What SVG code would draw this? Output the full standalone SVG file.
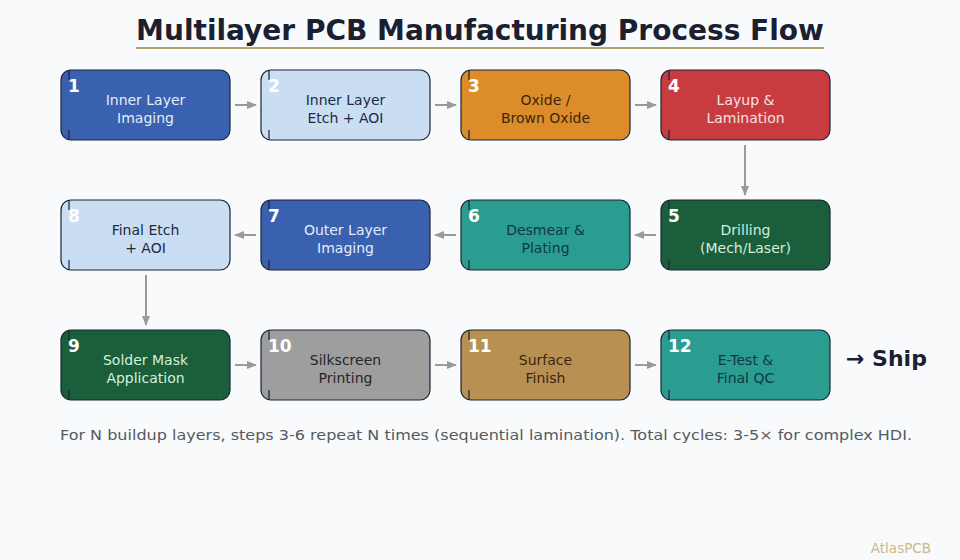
<svg xmlns="http://www.w3.org/2000/svg" width="960" height="560" viewBox="0 0 960 560">
<defs>
<marker id="ah" viewBox="0 0 10 10" refX="9" refY="5" markerWidth="5" markerHeight="5" orient="auto" markerUnits="strokeWidth">
<path d="M0,1 L10,5 L0,9 z" fill="#9a9a9a"/>
</marker>
<style>
.box{stroke:#1a2436;stroke-width:1.2}
.tick{stroke:#1a2436;stroke-width:1.2}
.num{font-family:"DejaVu Sans",sans-serif;font-weight:bold;font-size:17px;fill:#ffffff}
.lbl{font-family:"DejaVu Sans",sans-serif;font-size:14px;text-anchor:middle}
.lt{fill:#e4ecf8}
.dk{fill:#1e2a40}
.conn{stroke:#9a9a9a;stroke-width:2;fill:none;marker-end:url(#ah)}
</style>
</defs>
<rect width="960" height="560" fill="#f8fafc"/>
<text x="480" y="40" text-anchor="middle" font-family="DejaVu Sans, sans-serif" font-weight="bold" font-size="28" fill="#1a2030">Multilayer PCB Manufacturing Process Flow</text>
<line x1="136" y1="48" x2="824" y2="48" stroke="#b8a272" stroke-width="2"/>

<g id="connectors">
<line class="conn" x1="235" y1="105" x2="256" y2="105"/>
<line class="conn" x1="435" y1="105" x2="456" y2="105"/>
<line class="conn" x1="635" y1="105" x2="656" y2="105"/>
<line class="conn" x1="745" y1="145" x2="745" y2="195"/>
<line class="conn" x1="656" y1="235" x2="635" y2="235"/>
<line class="conn" x1="456" y1="235" x2="435" y2="235"/>
<line class="conn" x1="256" y1="235" x2="235" y2="235"/>
<line class="conn" x1="146" y1="275" x2="146" y2="325"/>
<line class="conn" x1="235" y1="365" x2="256" y2="365"/>
<line class="conn" x1="435" y1="365" x2="456" y2="365"/>
<line class="conn" x1="635" y1="365" x2="656" y2="365"/>
</g>

<g id="n1">
<rect class="box" x="61" y="70" width="169" height="70" rx="10" fill="#3a60b0"/>
<path class="tick" d="M69,70 v10 M69,130 v10"/>
<text class="num" x="68" y="92">1</text>
<text class="lbl lt" x="145.5" y="105">Inner Layer</text>
<text class="lbl lt" x="145.5" y="123">Imaging</text>
</g>
<g id="n2">
<rect class="box" x="261" y="70" width="169" height="70" rx="10" fill="#c9ddf3"/>
<path class="tick" d="M269,70 v10 M269,130 v10"/>
<text class="num" x="268" y="92">2</text>
<text class="lbl dk" x="345.5" y="105">Inner Layer</text>
<text class="lbl dk" x="345.5" y="123">Etch + AOI</text>
</g>
<g id="n3">
<rect class="box" x="461" y="70" width="169" height="70" rx="10" fill="#dc8d2a"/>
<path class="tick" d="M469,70 v10 M469,130 v10"/>
<text class="num" x="468" y="92">3</text>
<text class="lbl" fill="#3a2610" x="545.5" y="105">Oxide /</text>
<text class="lbl" fill="#3a2610" x="545.5" y="123">Brown Oxide</text>
</g>
<g id="n4">
<rect class="box" x="661" y="70" width="169" height="70" rx="10" fill="#c83c40"/>
<path class="tick" d="M669,70 v10 M669,130 v10"/>
<text class="num" x="668" y="92">4</text>
<text class="lbl" fill="#f6e0e0" x="745.5" y="105">Layup &amp;</text>
<text class="lbl" fill="#f6e0e0" x="745.5" y="123">Lamination</text>
</g>
<g id="n5">
<rect class="box" x="661" y="200" width="169" height="70" rx="10" fill="#1b5e3b"/>
<path class="tick" d="M669,200 v10 M669,260 v10"/>
<text class="num" x="668" y="222">5</text>
<text class="lbl" fill="#d2f0da" x="745.5" y="235">Drilling</text>
<text class="lbl" fill="#d2f0da" x="745.5" y="253">(Mech/Laser)</text>
</g>
<g id="n6">
<rect class="box" x="461" y="200" width="169" height="70" rx="10" fill="#2a9d90"/>
<path class="tick" d="M469,200 v10 M469,260 v10"/>
<text class="num" x="468" y="222">6</text>
<text class="lbl" fill="#0f3844" x="545.5" y="235">Desmear &amp;</text>
<text class="lbl" fill="#0f3844" x="545.5" y="253">Plating</text>
</g>
<g id="n7">
<rect class="box" x="261" y="200" width="169" height="70" rx="10" fill="#3a60b0"/>
<path class="tick" d="M269,200 v10 M269,260 v10"/>
<text class="num" x="268" y="222">7</text>
<text class="lbl lt" x="345.5" y="235">Outer Layer</text>
<text class="lbl lt" x="345.5" y="253">Imaging</text>
</g>
<g id="n8">
<rect class="box" x="61" y="200" width="169" height="70" rx="10" fill="#c9ddf3"/>
<path class="tick" d="M69,200 v10 M69,260 v10"/>
<text class="num" x="68" y="222">8</text>
<text class="lbl dk" x="145.5" y="235">Final Etch</text>
<text class="lbl dk" x="145.5" y="253">+ AOI</text>
</g>
<g id="n9">
<rect class="box" x="61" y="330" width="169" height="70" rx="10" fill="#1b5e3b"/>
<path class="tick" d="M69,330 v10 M69,390 v10"/>
<text class="num" x="68" y="352">9</text>
<text class="lbl" fill="#d2f0da" x="145.5" y="365">Solder Mask</text>
<text class="lbl" fill="#d2f0da" x="145.5" y="383">Application</text>
</g>
<g id="n10">
<rect class="box" x="261" y="330" width="169" height="70" rx="10" fill="#9e9e9e"/>
<path class="tick" d="M269,330 v10 M269,390 v10"/>
<text class="num" x="268" y="352">10</text>
<text class="lbl" fill="#262626" x="345.5" y="365">Silkscreen</text>
<text class="lbl" fill="#262626" x="345.5" y="383">Printing</text>
</g>
<g id="n11">
<rect class="box" x="461" y="330" width="169" height="70" rx="10" fill="#b89152"/>
<path class="tick" d="M469,330 v10 M469,390 v10"/>
<text class="num" x="468" y="352">11</text>
<text class="lbl" fill="#3a2610" x="545.5" y="365">Surface</text>
<text class="lbl" fill="#3a2610" x="545.5" y="383">Finish</text>
</g>
<g id="n12">
<rect class="box" x="661" y="330" width="169" height="70" rx="10" fill="#2a9d90"/>
<path class="tick" d="M669,330 v10 M669,390 v10"/>
<text class="num" x="668" y="352">12</text>
<text class="lbl" fill="#0f3844" x="745.5" y="365">E-Test &amp;</text>
<text class="lbl" fill="#0f3844" x="745.5" y="383">Final QC</text>
</g>

<text x="846" y="366" font-family="DejaVu Sans, sans-serif" font-weight="bold" font-size="22" fill="#1a2030">→ Ship</text>
<text x="60" y="440" font-family="DejaVu Sans, sans-serif" font-size="14" fill="#555a60" textLength="852" lengthAdjust="spacingAndGlyphs">For N buildup layers, steps 3-6 repeat N times (sequential lamination). Total cycles: 3-5× for complex HDI.</text>
<text x="931" y="553" text-anchor="end" font-family="DejaVu Sans, sans-serif" font-size="13.5" fill="#cbb98a">AtlasPCB</text>
</svg>
